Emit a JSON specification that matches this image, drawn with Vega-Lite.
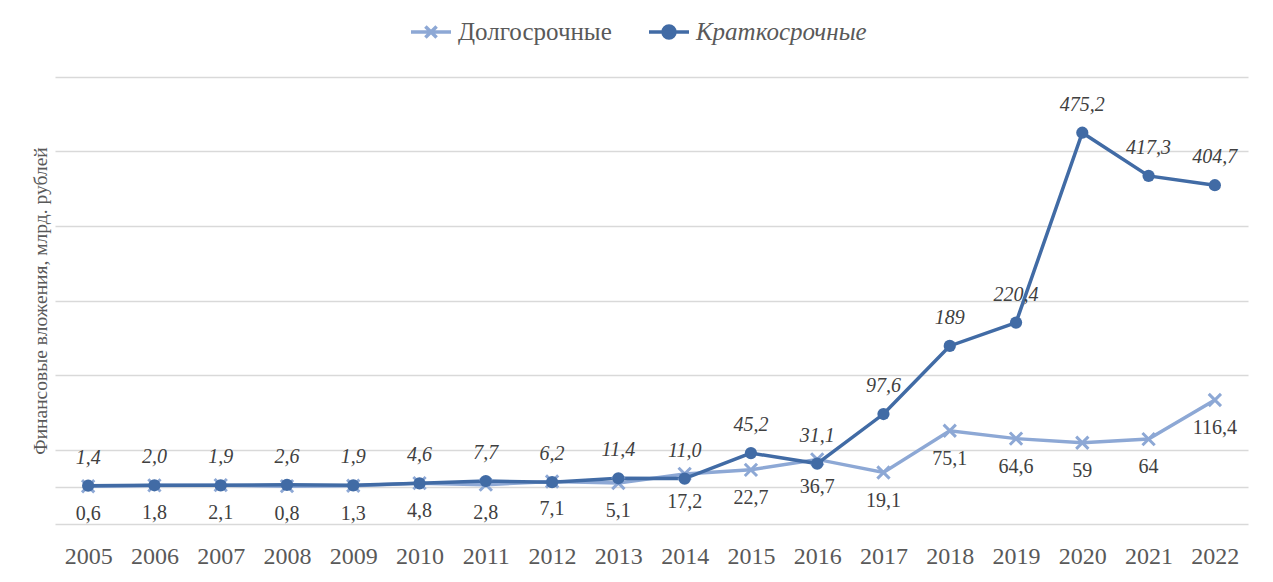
{
  "$schema": "https://vega.github.io/schema/vega-lite/v6.json",
  "width": 1193,
  "height": 447,
  "autosize": {"type": "none"},
  "padding": {"left": 55, "top": 77, "right": 25, "bottom": 58},
  "background": "white",
  "config": {
    "view": {"stroke": null},
    "font": "'Liberation Serif', 'Times New Roman', serif"
  },
  "data": {
    "values": [
      {"year": "2005", "series": "Долгосрочные", "value": 0.6, "label": "0,6"},
      {"year": "2006", "series": "Долгосрочные", "value": 1.8, "label": "1,8"},
      {"year": "2007", "series": "Долгосрочные", "value": 2.1, "label": "2,1"},
      {"year": "2008", "series": "Долгосрочные", "value": 0.8, "label": "0,8"},
      {"year": "2009", "series": "Долгосрочные", "value": 1.3, "label": "1,3"},
      {"year": "2010", "series": "Долгосрочные", "value": 4.8, "label": "4,8"},
      {"year": "2011", "series": "Долгосрочные", "value": 2.8, "label": "2,8"},
      {"year": "2012", "series": "Долгосрочные", "value": 7.1, "label": "7,1"},
      {"year": "2013", "series": "Долгосрочные", "value": 5.1, "label": "5,1"},
      {"year": "2014", "series": "Долгосрочные", "value": 17.2, "label": "17,2"},
      {"year": "2015", "series": "Долгосрочные", "value": 22.7, "label": "22,7"},
      {"year": "2016", "series": "Долгосрочные", "value": 36.7, "label": "36,7"},
      {"year": "2017", "series": "Долгосрочные", "value": 19.1, "label": "19,1"},
      {"year": "2018", "series": "Долгосрочные", "value": 75.1, "label": "75,1"},
      {"year": "2019", "series": "Долгосрочные", "value": 64.6, "label": "64,6"},
      {"year": "2020", "series": "Долгосрочные", "value": 59, "label": "59"},
      {"year": "2021", "series": "Долгосрочные", "value": 64, "label": "64"},
      {"year": "2022", "series": "Долгосрочные", "value": 116.4, "label": "116,4"},
      {"year": "2005", "series": "Краткосрочные", "value": 1.4, "label": "1,4"},
      {"year": "2006", "series": "Краткосрочные", "value": 2.0, "label": "2,0"},
      {"year": "2007", "series": "Краткосрочные", "value": 1.9, "label": "1,9"},
      {"year": "2008", "series": "Краткосрочные", "value": 2.6, "label": "2,6"},
      {"year": "2009", "series": "Краткосрочные", "value": 1.9, "label": "1,9"},
      {"year": "2010", "series": "Краткосрочные", "value": 4.6, "label": "4,6"},
      {"year": "2011", "series": "Краткосрочные", "value": 7.7, "label": "7,7"},
      {"year": "2012", "series": "Краткосрочные", "value": 6.2, "label": "6,2"},
      {"year": "2013", "series": "Краткосрочные", "value": 11.4, "label": "11,4"},
      {"year": "2014", "series": "Краткосрочные", "value": 11.0, "label": "11,0"},
      {"year": "2015", "series": "Краткосрочные", "value": 45.2, "label": "45,2"},
      {"year": "2016", "series": "Краткосрочные", "value": 31.1, "label": "31,1"},
      {"year": "2017", "series": "Краткосрочные", "value": 97.6, "label": "97,6"},
      {"year": "2018", "series": "Краткосрочные", "value": 189, "label": "189"},
      {"year": "2019", "series": "Краткосрочные", "value": 220.4, "label": "220,4"},
      {"year": "2020", "series": "Краткосрочные", "value": 475.2, "label": "475,2"},
      {"year": "2021", "series": "Краткосрочные", "value": 417.3, "label": "417,3"},
      {"year": "2022", "series": "Краткосрочные", "value": 404.7, "label": "404,7"}
    ]
  },
  "encoding": {
    "x": {
      "field": "year",
      "type": "ordinal",
      "scale": {"type": "point", "padding": 0.5},
      "axis": {
        "title": null,
        "labelAngle": 0,
        "domain": false,
        "ticks": false,
        "grid": false,
        "labelFont": "'Liberation Serif', 'Times New Roman', serif",
        "labelFontSize": 24,
        "labelColor": "#595959",
        "labelPadding": 20
      }
    },
    "y": {
      "field": "value",
      "type": "quantitative",
      "scale": {"domain": [-50, 550], "nice": false, "zero": false},
      "axis": {
        "title": "Финансовые вложения, млрд. рублей",
        "titleFont": "'Liberation Serif', 'Times New Roman', serif",
        "titleFontSize": 19.5,
        "titleFontWeight": "normal",
        "titleColor": "#595959",
        "titlePadding": 5,
        "labels": false,
        "ticks": false,
        "domain": false,
        "grid": true,
        "gridColor": "#D9D9D9",
        "gridWidth": 1.5,
        "values": [-50, 0, 50, 150, 250, 350, 450, 550]
      }
    }
  },
  "layer": [
    {
      "mark": {"type": "line", "strokeWidth": 3.5},
      "encoding": {
        "color": {
          "field": "series",
          "type": "nominal",
          "scale": {"domain": ["Долгосрочные", "Краткосрочные"], "range": ["#8DA8D5", "#416BA5"]},
          "legend": {
            "orient": "none",
            "legendX": 354,
            "legendY": -67,
            "direction": "horizontal",
            "title": null,
            "symbolSize": 1600,
            "symbolStrokeWidth": 3.5,
            "labelFont": "'Liberation Serif', 'Times New Roman', serif",
            "labelFontSize": 25,
            "labelColor": "#595959",
            "labelOffset": 5,
            "labelLimit": 400,
            "columnPadding": 30,
            "encode": {
              "symbols": {
                "update": {
                  "shape": {"signal": "datum.value === 'Краткосрочные' ? 'M-1,0L1,0M-0.3,0A0.3,0.3 0 1,1 0.3,0A0.3,0.3 0 1,1 -0.3,0Z' : 'M-1,0L1,0M-0.28,-0.28L0.28,0.28M-0.28,0.28L0.28,-0.28'"},
                  "fill": {"signal": "datum.value === 'Краткосрочные' ? '#416BA5' : 'transparent'"},
                  "stroke": {"signal": "datum.value === 'Краткосрочные' ? '#416BA5' : '#8DA8D5'"},
                  "strokeWidth": {"value": 3.5},
                  "opacity": {"value": 1}
                }
              },
              "labels": {
                "update": {
                  "fontStyle": {"signal": "datum.value === 'Краткосрочные' ? 'italic' : 'normal'"}
                }
              }
            }
          }
        }
      }
    },
    {
      "transform": [{"filter": "datum.series === 'Долгосрочные'"}],
      "mark": {"type": "point", "shape": "M-1,-1L1,1M-1,1L1,-1", "size": 150, "stroke": "#8DA8D5", "fill": null, "filled": false, "strokeWidth": 3, "opacity": 1}
    },
    {
      "transform": [{"filter": "datum.series === 'Краткосрочные'"}],
      "mark": {"type": "point", "shape": "circle", "size": 150, "fill": "#416BA5", "filled": true, "strokeWidth": 0, "opacity": 1}
    },
    {
      "transform": [{"filter": "datum.series === 'Краткосрочные'"}],
      "mark": {"type": "text", "dy": -28, "fontStyle": "italic", "font": "'Liberation Serif', 'Times New Roman', serif", "fontSize": 20, "color": "#404040", "baseline": "middle"},
      "encoding": {"text": {"field": "label", "type": "nominal"}}
    },
    {
      "transform": [{"filter": "datum.series === 'Долгосрочные'"}],
      "mark": {"type": "text", "dy": 28, "font": "'Liberation Serif', 'Times New Roman', serif", "fontSize": 20, "color": "#404040", "baseline": "middle"},
      "encoding": {"text": {"field": "label", "type": "nominal"}}
    }
  ]
}
